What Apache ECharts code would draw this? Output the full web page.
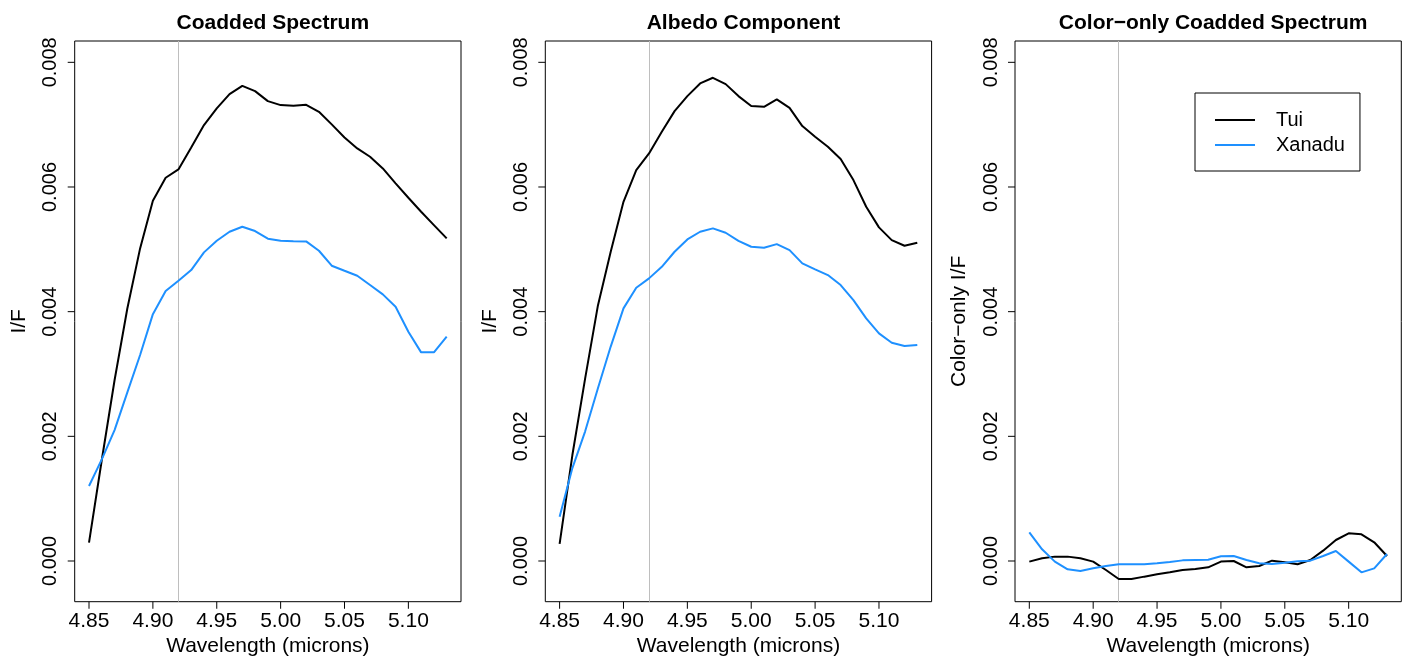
<!DOCTYPE html>
<html>
<head>
<meta charset="utf-8">
<script src="https://cdn.jsdelivr.net/npm/echarts@6/dist/echarts.min.js"></script>
<style>
html,body{margin:0;padding:0;background:#fff;}
#main{width:1410px;height:662px;}
</style>
</head>
<body>
<div id="main"></div>
<script>
// ---- Data ----
var wavelength = [4.85,4.86,4.87,4.88,4.89,4.90,4.91,4.92,4.93,4.94,4.95,4.96,4.97,4.98,4.99,5.00,5.01,5.02,5.03,5.04,5.05,5.06,5.07,5.08,5.09,5.10,5.11,5.12,5.13];

var coaddTui = [0.000294,0.00162,0.0029,0.00405,0.005015,0.005779,0.006148,0.006282,0.006635,0.006993,0.00726,0.00749,0.007623,0.007538,0.007378,0.007314,0.007303,0.007319,0.007206,0.007004,0.006795,0.006619,0.006485,0.006298,0.006058,0.005827,0.005602,0.005389,0.005176];
var coaddXanadu = [0.001203,0.00163,0.0021,0.002705,0.003304,0.00396,0.00433,0.004496,0.004667,0.004951,0.005137,0.005282,0.005362,0.005293,0.00517,0.005137,0.005131,0.005127,0.004977,0.004737,0.004656,0.004576,0.004427,0.004277,0.004079,0.003678,0.003347,0.003347,0.003598];

var albedoTui = [0.000273,0.0017,0.00293,0.0041,0.00496,0.005763,0.006271,0.006539,0.006886,0.007217,0.007458,0.007661,0.007752,0.00765,0.007458,0.007298,0.007287,0.007405,0.00727,0.006977,0.006806,0.006645,0.006448,0.006111,0.005683,0.005352,0.005148,0.005057,0.005105];
var albedoXanadu = [0.00071,0.00149,0.00208,0.00277,0.00344,0.004053,0.004384,0.004534,0.00472,0.004961,0.005159,0.005282,0.005336,0.005266,0.005137,0.005041,0.005025,0.005084,0.004988,0.004775,0.004678,0.004587,0.004427,0.004186,0.003893,0.003652,0.003501,0.003448,0.003464];

var colorTui = [-0.00001,0.000043,0.00007,0.00007,0.000043,-0.00001,-0.000144,-0.000289,-0.000289,-0.000251,-0.000214,-0.000182,-0.000144,-0.000128,-0.000102,-0.00001,0.0,-0.000102,-0.00008,0.000005,-0.000021,-0.000053,0.000016,0.000166,0.000337,0.000444,0.000428,0.0003,0.00008];
var colorXanadu = [0.00046,0.000187,-0.00001,-0.000134,-0.00016,-0.000118,-0.00008,-0.000053,-0.000053,-0.000053,-0.000037,-0.000016,0.00001,0.000016,0.000021,0.000075,0.00008,0.000016,-0.000037,-0.000048,-0.000027,-0.000005,0.000005,0.00008,0.00016,-0.00001,-0.000182,-0.000118,0.000112];

// tick values / labels
var xTickValues = [4.85,4.90,4.95,5.00,5.05,5.10];
var yTickValues = [0.000,0.002,0.004,0.006,0.008];
var xTickMin = 4.85, xTickMax = 5.10, xTickStep = 0.05;
var yTickMin = 0.000, yTickMax = 0.008, yTickStep = 0.002;
var panelTitles = ['Coadded Spectrum','Albedo Component','Color\u2212only Coadded Spectrum'];
var yNames = ['I/F','I/F','Color\u2212only I/F'];
var seriesNames = ['Tui','Xanadu'];
var markWavelength = 4.92;

// ---- Layout ----
var FONT = 'Liberation Sans, Arial, Helvetica, sans-serif';
var FS = 21;
var TICK = 7;
var gridLefts = [74.7, 545.3, 1015];
var gridTop = 41, gridW = 386.3, gridH = 560.7;
var xMin = 4.8388, xMax = 5.1412;
var yMin = -0.000653, yMax = 0.008342;
var lineColors = ['#000000', '#1E90FF'];

function pairs(xs, ys){ return xs.map(function(x,i){ return [x, ys[i]]; }); }

var panelsData = [
  [coaddTui, coaddXanadu],
  [albedoTui, albedoXanadu],
  [colorTui, colorXanadu]
];

var grids = [], xAxes = [], yAxes = [], titles = [], series = [];
var hiddenAxis = function(gi, mn, mx){ return {gridIndex: gi, type: 'value', min: mn, max: mx, show: false}; };

for (var p = 0; p < 3; p++) {
  var gMain = grids.length;
  // main plotting box
  grids.push({left: gridLefts[p], top: gridTop, width: gridW, height: gridH,
    show: true, borderColor: '#000', borderWidth: 1, backgroundColor: 'transparent'});
  xAxes.push({
    gridIndex: gMain, type: 'value', min: xMin, max: xMax, position: 'bottom',
    name: 'Wavelength (microns)', nameLocation: 'middle', nameGap: 34,
    nameTextStyle: {fontFamily: FONT, fontSize: FS, color: '#000'},
    axisLine: {show: false, onZero: false}, axisTick: {show: false}, axisLabel: {show: false},
    splitLine: {show: false}
  });
  yAxes.push({
    gridIndex: gMain, type: 'value', min: yMin, max: yMax, position: 'left',
    name: yNames[p], nameLocation: 'middle', nameRotate: 90, nameGap: 45,
    nameTextStyle: {fontFamily: FONT, fontSize: FS, color: '#000'},
    axisLine: {show: false, onZero: false}, axisTick: {show: false}, axisLabel: {show: false},
    splitLine: {show: false}
  });
  var mainX = xAxes.length - 1, mainY = yAxes.length - 1;

  // x label axis: a strip just below the box
  var gX = grids.length;
  var xl = gridLefts[p] + (xTickMin - xMin) / (xMax - xMin) * gridW;
  var xw = (xTickMax - xTickMin) / (xMax - xMin) * gridW;
  grids.push({left: xl, top: gridTop + gridH, width: xw, height: 32, show: false});
  xAxes.push({
    gridIndex: gX, type: 'value', min: xTickMin, max: xTickMax, interval: xTickStep, position: 'top',
    axisLine: {show: false, onZero: false},
    axisTick: {show: false},
    axisLabel: {show: true, inside: true, margin: 9, fontFamily: FONT, fontSize: FS, color: '#000',
      showMinLabel: true, showMaxLabel: true,
      formatter: function(v){ return v.toFixed(2); }},
    splitLine: {show: false}
  });
  yAxes.push(hiddenAxis(gX, 0, 1));

  // y label axis: a strip just left of the box
  var gY = grids.length;
  var yt = gridTop + (yMax - yTickMax) / (yMax - yMin) * gridH;
  var yh = (yTickMax - yTickMin) / (yMax - yMin) * gridH;
  grids.push({left: gridLefts[p] - 45, top: yt, width: 45, height: yh, show: false});
  xAxes.push(hiddenAxis(gY, 0, 1));
  yAxes.push({
    gridIndex: gY, type: 'value', min: yTickMin, max: yTickMax, interval: yTickStep, position: 'right',
    axisLine: {show: false, onZero: false},
    axisTick: {show: false},
    axisLabel: {show: true, inside: true, rotate: 90, margin: 14, fontFamily: FONT, fontSize: 20, color: '#000',
      showMinLabel: true, showMaxLabel: true,
      formatter: function(v){ return v.toFixed(3); }},
    splitLine: {show: false}
  });

  titles.push({text: panelTitles[p], left: gridLefts[p] + gridW/2, top: 8, textAlign: 'center',
    textStyle: {fontFamily: FONT, fontSize: FS, fontWeight: 'bold', color: '#000'}});

  for (var s = 0; s < 2; s++) {
    var ser = {
      name: seriesNames[s], type: 'line', xAxisIndex: mainX, yAxisIndex: mainY,
      data: pairs(wavelength, panelsData[p][s]),
      symbol: 'none', showSymbol: false, smooth: false, animation: false, z: 3,
      lineStyle: {color: lineColors[s], width: 2},
      itemStyle: {color: lineColors[s]}
    };
    if (s === 0) {
      ser.markLine = {silent: true, symbol: 'none', animation: false, z: 1,
        label: {show: false},
        lineStyle: {color: '#bebebe', width: 1, type: 'solid'},
        data: [{xAxis: markWavelength}]};
    }
    series.push(ser);
  }

  // tick marks, placed through the main axes' scales, on the outside of the box
  series.push({
    name: 'xTicks' + p, type: 'scatter', xAxisIndex: mainX, yAxisIndex: mainY,
    data: xTickValues.map(function(v){ return [v, yMin]; }),
    symbol: 'rect', symbolSize: [1, TICK], symbolOffset: [0, TICK / 2],
    itemStyle: {color: '#000', opacity: 1}, clip: false, silent: true, animation: false, z: 5,
    emphasis: {disabled: true}
  });
  series.push({
    name: 'yTicks' + p, type: 'scatter', xAxisIndex: mainX, yAxisIndex: mainY,
    data: yTickValues.map(function(v){ return [xMin, v]; }),
    symbol: 'rect', symbolSize: [TICK, 1], symbolOffset: [-TICK / 2, 0],
    itemStyle: {color: '#000', opacity: 1}, clip: false, silent: true, animation: false, z: 5,
    emphasis: {disabled: true}
  });
}

var chart = echarts.init(document.getElementById('main'), null, {renderer: 'canvas'});
chart.setOption({
  backgroundColor: '#ffffff',
  animation: false,
  title: titles,
  grid: grids,
  xAxis: xAxes,
  yAxis: yAxes,
  legend: {
    data: seriesNames, orient: 'vertical', left: 1195, top: 93,
    padding: [17, 15, 16, 20], itemGap: 5, itemWidth: 40, itemHeight: 20,
    borderColor: '#000', borderWidth: 1, backgroundColor: '#fff',
    icon: 'path://M0,9 L40,9 L40,11 L0,11 Z',
    textStyle: {fontFamily: FONT, fontSize: 20, color: '#000', padding: [0, 0, 0, 16]},
    selectedMode: false
  },
  series: series
});
</script>
</body>
</html>
